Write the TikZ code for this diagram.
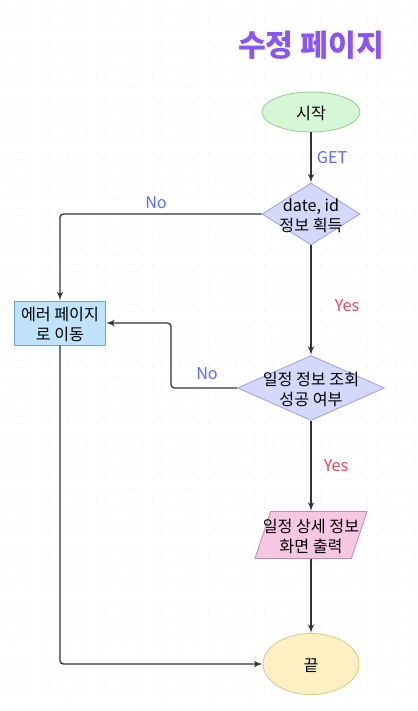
\documentclass[tikz,border=0pt]{standalone}
\usepackage{fontspec}
\setmainfont{Noto Sans CJK KR}
\usepackage{xcolor}
\usetikzlibrary{shapes,arrows,positioning}

\definecolor{titlepurple}{HTML}{8A55F6}
\definecolor{labelblue}{HTML}{5B6CF5}
\definecolor{labelred}{HTML}{E8474F}
\definecolor{linegray}{HTML}{333333}
\definecolor{dotgray}{HTML}{E6E6E6}
\definecolor{startline}{HTML}{9ACD9A}
\definecolor{startfill}{HTML}{D5F7D5}
\definecolor{decline}{HTML}{9FA5E6}
\definecolor{decfill}{HTML}{D4D8FA}
\definecolor{errline}{HTML}{6AA6D6}
\definecolor{errfill}{HTML}{BFE3FB}
\definecolor{outline}{HTML}{C48AAE}
\definecolor{outfill}{HTML}{F6C7E2}
\definecolor{endline}{HTML}{E0CA86}
\definecolor{endfill}{HTML}{FDF0C2}

% text that does not size its shape
\newcommand{\ntext}[1]{\smash{\makebox[0pt]{\raisebox{-4.2pt}{\begin{tabular}{@{}c@{}}#1\end{tabular}}}}}

\begin{document}
\begin{tikzpicture}[x=0.02cm, y=-0.02cm, font=\fontsize{9.2}{11.8}\selectfont]

    \tikzstyle{terminal} = [
        ellipse,
        draw,
        line width=0.5pt,
        inner sep=0pt,
    ]
    \tikzstyle{decision} = [
        diamond,
        draw=decline,
        fill=decfill,
        line width=0.5pt,
        inner sep=0pt,
    ]
    \tikzstyle{block} = [
        rectangle,
        draw=errline,
        fill=errfill,
        line width=0.5pt,
        inner sep=0pt,
        minimum width=1.82cm,
        minimum height=0.88cm,
    ]
    \tikzstyle{output} = [
        trapezium,
        trapezium left angle=79,
        trapezium right angle=101,
        trapezium stretches=true,
        draw=outline,
        fill=outfill,
        line width=0.5pt,
        inner sep=1pt,
        minimum width=2.24cm,
        minimum height=0.94cm,
    ]
    \tikzstyle{line} = [
        draw,
        color=linegray,
        line width=0.75pt,
        rounded corners=2pt,
        -latex',
    ]
    \tikzstyle{yeslabel} = [text=labelred, inner sep=0pt]
    \tikzstyle{nolabel} = [text=labelblue, inner sep=0pt]

    % background dots
    \useasboundingbox (0,0) rectangle (418,711);
    \foreach \i in {0,...,44} {
        \foreach \j in {0,...,76} {
            \fill[dotgray] (2.8+9.35*\i, 2.8+9.35*\j) circle (0.6);
        }
    }

    \node [text=titlepurple, font=\fontsize{17.2}{20}\selectfont\bfseries] (title) at (311,45) {수정 페이지};

    \node [terminal, draw=startline, fill=startfill,
        minimum width=1.96cm, minimum height=0.8cm] (start) at (311,112) {\ntext{시작}};
    \node [decision, minimum width=1.96cm, minimum height=1.24cm] (info) at (311,214) {\ntext{date, id\\정보 획득}};
    \node [block] (err) at (60,323) {\ntext{에러 페이지\\로 이동}};
    \node [decision, minimum width=2.94cm, minimum height=1.3cm] (check) at (311,388) {\ntext{일정 정보 조회\\성공 여부}};
    \node [output] (detail) at (311,535) {\ntext{일정 상세 정보\\화면 출력}};
    \node [terminal, draw=endline, fill=endfill,
        minimum width=1.92cm, minimum height=1.22cm] (fin) at (311,664) {\ntext{끝}};

    \coordinate (bend) at (171,388);

    \path [line] (start) -- node[nolabel, right=3pt] (get) {GET} (info);
    \path [line] (info) -| (err);
    \path [line] (info) -- (check);
    \path [line] (check) -- (bend) |- (err);
    \path [line] (check) -- (detail);
    \path [line] (detail) -- (fin);
    \path [line] (err) |- (fin);

    \node [nolabel] (no1) at (156,203) {No};
    \node [yeslabel] (yes1) at (347,306) {Yes};
    \node [nolabel] (no2) at (207,374) {No};
    \node [yeslabel] (yes2) at (336,466) {Yes};

\end{tikzpicture}
\end{document}
